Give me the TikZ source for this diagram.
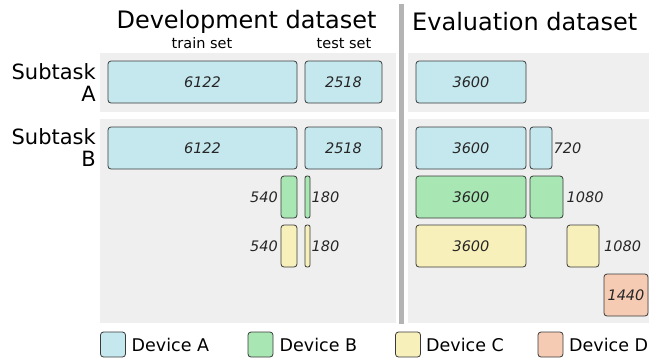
\documentclass[tikz,border=0pt]{standalone}
\usepackage{fontspec}
\setmainfont{DejaVu Sans}

\definecolor{devA}{HTML}{C5E8EE}
\definecolor{devB}{HTML}{A8E6B4}
\definecolor{devC}{HTML}{F8F0BA}
\definecolor{devD}{HTML}{F6CBB4}
\definecolor{panelgray}{HTML}{EFEFEF}
\definecolor{divgray}{HTML}{B4B4B4}
\definecolor{edge}{HTML}{3A3A3A}

\begin{document}
\begin{tikzpicture}[x=1pt,y=-1pt,
  blk/.style={draw=edge, line width=0.8pt, rounded corners=3pt, inner sep=0pt,
    minimum height=42pt, font=\fontsize{14.5}{16}\selectfont\itshape, text=black!85},
  thin/.style={blk, rounded corners=2pt},
  num/.style={inner sep=0pt, font=\fontsize{14.5}{16}\selectfont\itshape, text=black!85},
  title/.style={inner sep=0pt, font=\fontsize{24}{28}\selectfont},
  subtitle/.style={inner sep=0pt, font=\fontsize{14.5}{16}\selectfont},
  rowlabel/.style={inner sep=0pt, align=right, anchor=east, font=\fontsize{21}{22}\selectfont},
  legbox/.style={draw=edge, line width=0.8pt, rounded corners=3pt, inner sep=0pt,
    minimum width=25pt, minimum height=25pt},
  legtext/.style={inner sep=0pt, anchor=base west, font=\fontsize{17.5}{20}\selectfont},
]
\useasboundingbox (0,0) rectangle (649,360);

% background panels
\fill[panelgray] (100,53) rectangle (396,112);
\fill[panelgray] (408,53) rectangle (649,112);
\fill[panelgray] (100,119) rectangle (396,323);
\fill[panelgray] (408,119) rectangle (649,323);
% separator between the two datasets
\draw[divgray, line width=4.5pt] (401.5,4) -- (401.5,324);

% headings
\node[title, anchor=base] (tdev) at (246.5,28.5) {Development dataset};
\node[title, anchor=base west] (teval) at (412,30) {Evaluation dataset};
\node[subtitle, anchor=base] (ttrain) at (202,48) {train set};
\node[subtitle, anchor=base] (ttest) at (344,48) {test set};

% row labels
\node[rowlabel] (sa) at (96,83) {Subtask\\A};
\node[rowlabel] (sb) at (96,148) {Subtask\\B};

% Subtask A
\node[blk, fill=devA, minimum width=189pt] (a1) at (202.5,82) {6122};
\node[blk, fill=devA, minimum width=77pt] (a2) at (343.5,82) {2518};
\node[blk, fill=devA, minimum width=110pt] (a3) at (471,82) {3600};

% Subtask B, device A
\node[blk, fill=devA, minimum width=189pt] (b1) at (202.5,148) {6122};
\node[blk, fill=devA, minimum width=77pt] (b2) at (343.5,148) {2518};
\node[blk, fill=devA, minimum width=110pt] (b3) at (471,148) {3600};
\node[blk, fill=devA, minimum width=22pt] (b4) at (541,148) {};
\node[num, anchor=west] (lb4) at (553.5,148) {720};

% Subtask B, device B
\node[blk, fill=devB, minimum width=16pt] (c1) at (289,197) {};
\node[num, anchor=east] (lc1) at (278,197) {540};
\node[thin, fill=devB, minimum width=5pt] (c2) at (307.5,197) {};
\node[num, anchor=west] (lc2) at (311.5,197) {180};
\node[blk, fill=devB, minimum width=110pt] (c3) at (471,197) {3600};
\node[blk, fill=devB, minimum width=33pt] (c4) at (546.5,197) {};
\node[num, anchor=west] (lc4) at (566.5,197) {1080};

% Subtask B, device C
\node[blk, fill=devC, minimum width=16pt] (d1) at (289,246) {};
\node[num, anchor=east] (ld1) at (278,246) {540};
\node[thin, fill=devC, minimum width=5pt] (d2) at (307.5,246) {};
\node[num, anchor=west] (ld2) at (311.5,246) {180};
\node[blk, fill=devC, minimum width=110pt] (d3) at (471,246) {3600};
\node[blk, fill=devC, minimum width=32pt] (d4) at (583,246) {};
\node[num, anchor=west] (ld4) at (604,246) {1080};

% Subtask B, device D
\node[blk, fill=devD, minimum width=44pt] (e1) at (626,295) {1440};

% legend
\node[legbox, fill=devA] (kA) at (113,344.5) {};
\node[legtext] (tA) at (131.5,351) {Device A};
\node[legbox, fill=devB] (kB) at (260.5,344.5) {};
\node[legtext] (tB) at (279.5,351) {Device B};
\node[legbox, fill=devC] (kC) at (408,344.5) {};
\node[legtext] (tC) at (426,351) {Device C};
\node[legbox, fill=devD] (kD) at (550.5,344.5) {};
\node[legtext] (tD) at (569,351) {Device D};
\end{tikzpicture}
\end{document}
